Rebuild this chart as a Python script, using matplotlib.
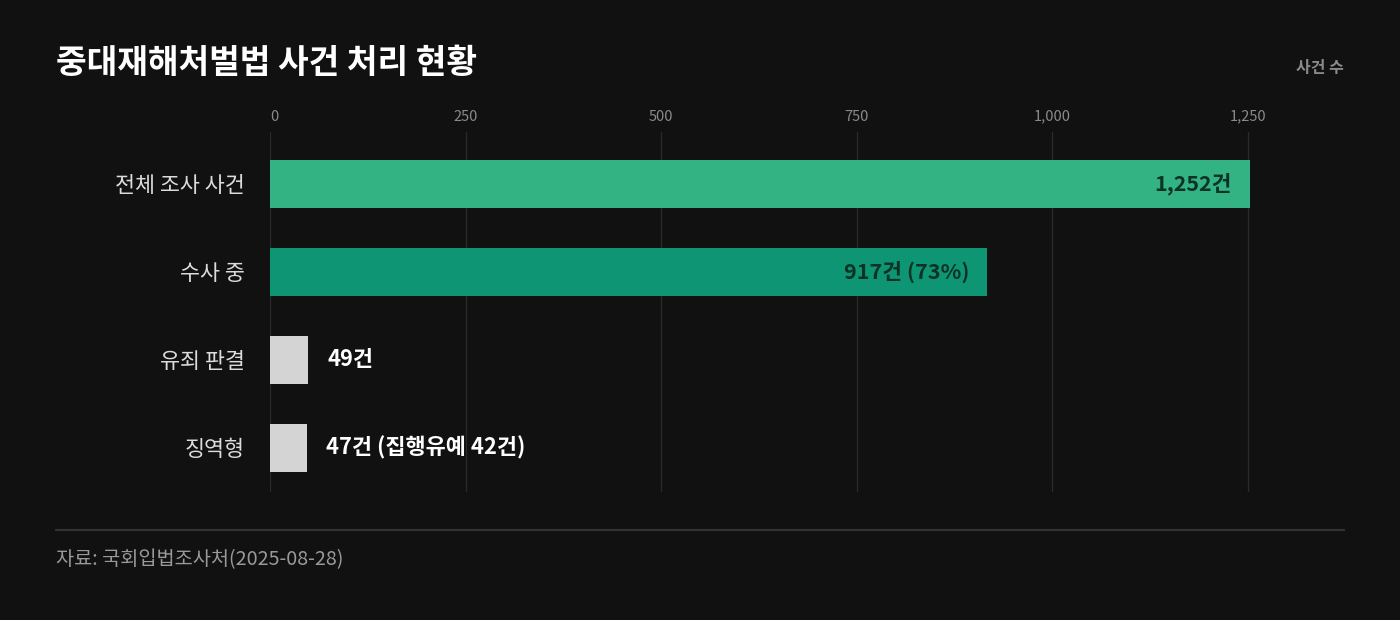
import matplotlib
matplotlib.use("Agg")
import matplotlib.pyplot as plt
from matplotlib.ticker import FuncFormatter

plt.rcParams['font.family'] = ['Noto Sans CJK KR', 'DejaVu Sans']

# ---- data ----
categories = ['전체 조사 사건', '수사 중', '유죄 판결', '징역형']
values = [1252, 917, 49, 47]
value_labels = ['1,252건', '917건 (73%)', '49건', '47건 (집행유예 42건)']
bar_colors = ['#33b384', '#0e9573', '#d4d4d4', '#d4d4d4']
x_ticks = [0, 250, 500, 750, 1000, 1250]
title = '중대재해처벌법 사건 처리 현황'
unit_label = '사건 수'
source = '자료: 국회입법조사처(2025-08-28)'

BG = '#111111'
W, H = 1400, 620
fig = plt.figure(figsize=(W / 100, H / 100), dpi=100, facecolor=BG)

# axes placed in pixel space
ax_left, ax_right, ax_top, ax_bottom = 270, 1343.5, 132, 492
ax = fig.add_axes([ax_left / W, 1 - ax_bottom / H, (ax_right - ax_left) / W, (ax_bottom - ax_top) / H])
ax.set_facecolor(BG)

ypos = list(range(len(categories)))
ax.barh(ypos, values, height=48 / 88, color=bar_colors, zorder=3)
ax.set_xlim(0, 1372)
ax.set_ylim(3.5, -52 / 88)

for s in ax.spines.values():
    s.set_visible(False)

ax.set_xticks(x_ticks)
ax.xaxis.set_major_formatter(FuncFormatter(lambda v, p: f'{int(v):,}'))
ax.xaxis.tick_top()
ax.tick_params(axis='x', length=0, pad=6, labelsize=10.5, labelcolor='#8a8a8a')
ax.grid(axis='x', color='#2b2b2b', linewidth=0.9, zorder=0)
fig.canvas.draw()
first_lbl = ax.get_xticklabels(which='major')
for t in ax.xaxis.get_major_ticks()[:1]:
    t.label2.set_horizontalalignment('left')

ax.set_yticks(ypos)
ax.set_yticklabels(categories)
ax.tick_params(axis='y', length=0, pad=18, labelsize=15.7, labelcolor='#dcdcdc')

for i, (v, lab) in enumerate(zip(values, value_labels)):
    if v > 300:
        ax.annotate(lab, xy=(v, i), xytext=(-18, 0), textcoords='offset pixels',
                    ha='right', va='center', fontsize=15.5, fontweight='bold',
                    color='#0c3326', zorder=4)
    else:
        ax.annotate(lab, xy=(v, i), xytext=(19, 0), textcoords='offset pixels',
                    ha='left', va='center', fontsize=15.8, fontweight='bold',
                    color='#ffffff', zorder=4)

# title and unit
fig.text(56 / W, 1 - 64 / H, title, ha='left', va='center', fontsize=24,
         fontweight='bold', color='#ffffff')
fig.text(1344 / W, 1 - 68 / H, unit_label, ha='right', va='center', fontsize=11.5,
         fontweight='bold', color='#8a8a8a')

# footer line and source
fig.add_artist(plt.Line2D([56 / W, 1344 / W], [1 - 530 / H, 1 - 530 / H],
                          color='#333333', linewidth=1.5))
fig.text(56 / W, 1 - 560 / H, source, ha='left', va='center', fontsize=14.2,
         color='#999999')

fig.savefig('out.png', dpi=100, facecolor=BG)
